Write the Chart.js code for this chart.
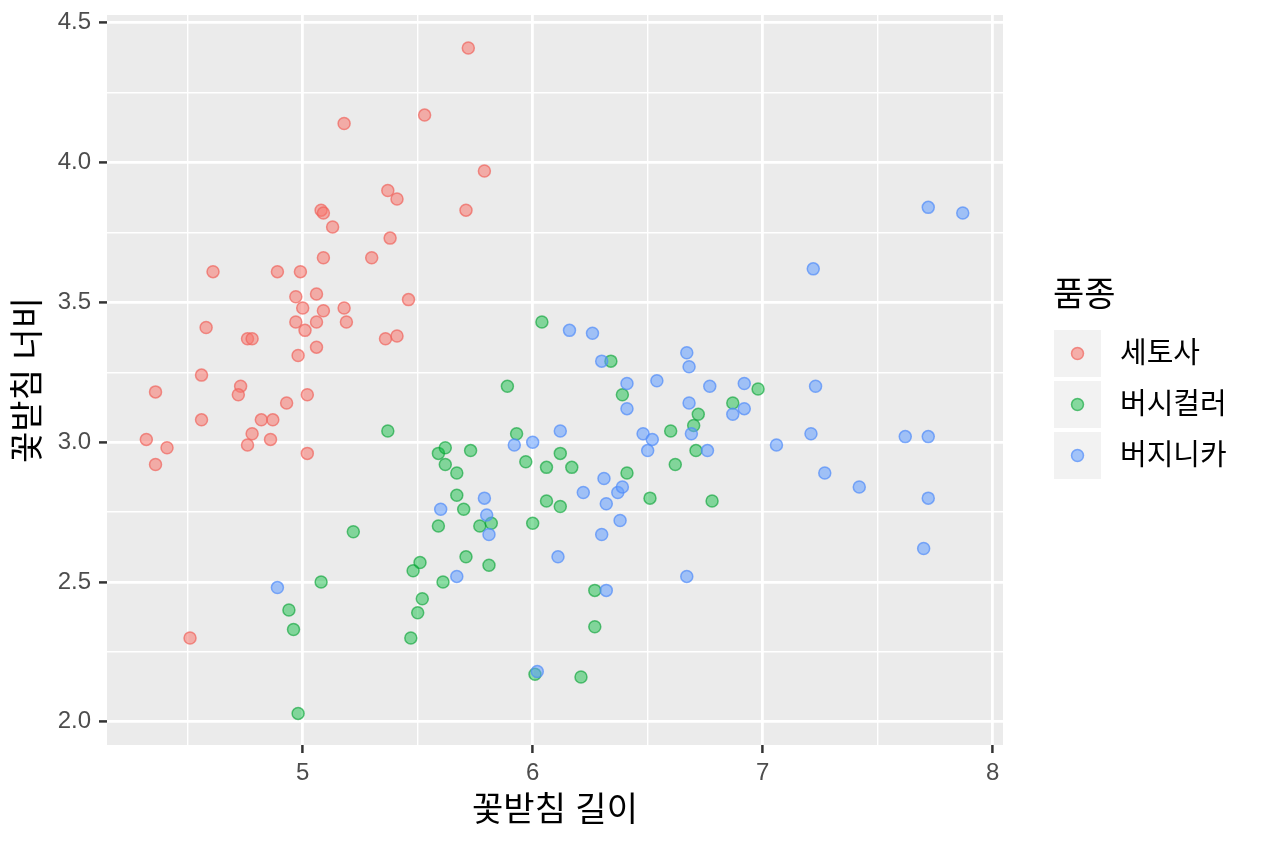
<!DOCTYPE html>
<html lang="ko">
<head>
<meta charset="utf-8">
<title>꽃받침 길이와 너비</title>
<script src="https://cdn.jsdelivr.net/npm/chart.js@4.4.1/dist/chart.umd.min.js"></script>
<style>
    html, body { margin: 0; padding: 0; background: #ffffff; }
    #wrap { width: 1264px; height: 843px; position: relative; }
</style>
</head>
<body>
<div id="wrap"><canvas id="irisChart"></canvas></div>
<script>
// sepal length / width (jittered points)
const speciesNames = ['세토사', '버시컬러', '버지니카'];

const setosaLength = [5.72, 5.53, 5.18, 5.79, 5.37, 5.41, 5.71, 5.08, 5.09, 5.13,
    5.38, 5.09, 5.30, 4.61, 4.89, 4.99, 5.06, 4.97, 5.46, 5.00,
    5.18, 5.09, 4.97, 5.06, 5.19, 4.58, 5.01, 4.76, 4.78, 5.36,
    5.41, 5.06, 4.98, 4.56, 4.73, 4.36, 4.72, 5.02, 4.93, 4.82,
    4.87, 4.56, 4.78, 4.32, 4.86, 4.41, 4.76, 5.02, 4.36, 4.51];
const setosaWidth = [4.41, 4.17, 4.14, 3.97, 3.90, 3.87, 3.83, 3.83, 3.82, 3.77,
    3.73, 3.66, 3.66, 3.61, 3.61, 3.61, 3.53, 3.52, 3.51, 3.48,
    3.48, 3.47, 3.43, 3.43, 3.43, 3.41, 3.40, 3.37, 3.37, 3.37,
    3.38, 3.34, 3.31, 3.24, 3.20, 3.18, 3.17, 3.17, 3.14, 3.08,
    3.08, 3.08, 3.03, 3.01, 3.01, 2.98, 2.99, 2.96, 2.92, 2.30];

const versicolorLength = [6.04, 6.34, 5.89, 6.39, 6.98, 6.87, 6.72, 6.70, 6.60, 5.93,
    5.37, 5.59, 5.62, 5.73, 6.12, 6.71, 5.97, 5.62, 6.06, 6.17,
    5.67, 6.41, 6.62, 5.67, 6.06, 6.12, 6.51, 6.78, 5.70, 5.59,
    5.77, 5.82, 6.00, 5.22, 5.51, 5.48, 5.71, 5.81, 5.08, 5.61,
    6.27, 5.52, 4.94, 5.50, 4.96, 5.47, 6.27, 6.01, 6.21, 4.98];
const versicolorWidth = [3.43, 3.29, 3.20, 3.17, 3.19, 3.14, 3.10, 3.06, 3.04, 3.03,
    3.04, 2.96, 2.98, 2.97, 2.96, 2.97, 2.93, 2.92, 2.91, 2.91,
    2.89, 2.89, 2.92, 2.81, 2.79, 2.77, 2.80, 2.79, 2.76, 2.70,
    2.70, 2.71, 2.71, 2.68, 2.57, 2.54, 2.59, 2.56, 2.50, 2.50,
    2.47, 2.44, 2.40, 2.39, 2.33, 2.30, 2.34, 2.17, 2.16, 2.03];

const virginicaLength = [6.16, 6.26, 6.30, 6.67, 6.68, 6.41, 6.54, 6.77, 6.92, 6.41,
    6.68, 6.92, 6.87, 6.69, 6.12, 6.48, 6.52, 6.50, 6.76, 7.06,
    5.92, 6.00, 6.31, 6.22, 6.37, 6.39, 6.32, 5.79, 5.60, 5.80,
    5.81, 6.38, 6.30, 6.11, 6.67, 5.67, 6.32, 6.02, 4.89, 7.72,
    7.87, 7.22, 7.23, 7.21, 7.62, 7.72, 7.27, 7.42, 7.72, 7.70];
const virginicaWidth = [3.40, 3.39, 3.29, 3.32, 3.27, 3.21, 3.22, 3.20, 3.21, 3.12,
    3.14, 3.12, 3.10, 3.03, 3.04, 3.03, 3.01, 2.97, 2.97, 2.99,
    2.99, 3.00, 2.87, 2.82, 2.82, 2.84, 2.78, 2.80, 2.76, 2.74,
    2.67, 2.72, 2.67, 2.59, 2.52, 2.52, 2.47, 2.18, 2.48, 3.84,
    3.82, 3.62, 3.20, 3.03, 3.02, 3.02, 2.89, 2.84, 2.80, 2.62];

// grid positions: integers / halves are major, the rest minor
const xTickValues = [4.5, 5, 5.5, 6, 6.5, 7, 7.5, 8];
const yTickValues = [2, 2.25, 2.5, 2.75, 3, 3.25, 3.5, 3.75, 4, 4.25, 4.5];

const FONT = "'Liberation Sans', 'Noto Sans CJK KR', sans-serif";

const palette = [
    { fill: 'rgba(248,118,109,0.55)', edge: 'rgba(240,100,92,0.7)' },
    { fill: 'rgba(0,186,56,0.45)', edge: 'rgba(0,160,48,0.6)' },
    { fill: 'rgba(97,156,255,0.55)', edge: 'rgba(80,140,250,0.7)' }
];

function toPoints(xs, ys) {
    return xs.map((x, i) => ({ x: x, y: ys[i] }));
}

const isMajorX = v => Math.abs(v - Math.round(v)) < 1e-6;
const isMajorY = v => Math.abs(v * 2 - Math.round(v * 2)) < 1e-6;

const panelBackground = {
    id: 'panelBackground',
    beforeDraw(chart) {
        const { ctx, chartArea: a } = chart;
        ctx.save();
        ctx.fillStyle = '#EBEBEB';
        ctx.fillRect(a.left, a.top, a.right - a.left, a.bottom - a.top);
        ctx.restore();
    }
};

// ggplot style legend to the right of the panel
const sideLegend = {
    id: 'sideLegend',
    afterDraw(chart) {
        const ctx = chart.ctx;
        const left = 1054, keySize = 47, firstTop = 330, step = 51;
        ctx.save();
        ctx.fillStyle = '#000000';
        ctx.font = "34px " + FONT;
        ctx.textBaseline = 'middle';
        ctx.textAlign = 'left';
        ctx.fillText('품종', left - 1, 297);
        speciesNames.forEach((name, i) => {
            const top = firstTop + i * step;
            ctx.fillStyle = '#F2F2F2';
            ctx.fillRect(left, top, keySize, keySize);
            ctx.beginPath();
            ctx.arc(left + keySize / 2, top + keySize / 2, 6, 0, Math.PI * 2);
            ctx.fillStyle = palette[i].fill;
            ctx.fill();
            ctx.lineWidth = 1.5;
            ctx.strokeStyle = palette[i].edge;
            ctx.stroke();
            ctx.fillStyle = '#000000';
            ctx.font = "29px " + FONT;
            ctx.fillText(name, 1120, top + keySize / 2 + 1);
        });
        ctx.restore();
    }
};

const ctx = document.getElementById('irisChart').getContext('2d');

new Chart(ctx, {
    type: 'scatter',
    data: {
        datasets: [
            { label: speciesNames[0], data: toPoints(setosaLength, setosaWidth), order: 2 },
            { label: speciesNames[1], data: toPoints(versicolorLength, versicolorWidth), order: 1 },
            { label: speciesNames[2], data: toPoints(virginicaLength, virginicaWidth), order: 0 }
        ].map((d, i) => Object.assign(d, {
            backgroundColor: palette[i].fill,
            borderColor: palette[i].edge,
            borderWidth: 1.5,
            pointRadius: 6,
            pointHoverRadius: 6
        }))
    },
    options: {
        responsive: true,
        maintainAspectRatio: false,
        animation: false,
        layout: { padding: { top: 15, right: 261, left: 0, bottom: 0 } },
        plugins: {
            legend: { display: false },
            tooltip: { enabled: false }
        },
        scales: {
            x: {
                type: 'linear',
                min: 4.149,
                max: 8.045,
                afterBuildTicks: scale => { scale.ticks = xTickValues.map(v => ({ value: v })); },
                afterFit: scale => {
                    scale.height = 98;
                    scale.paddingLeft = 0;
                    scale.paddingRight = 0;
                },
                border: { display: false },
                grid: {
                    color: '#FFFFFF',
                    lineWidth: c => isMajorX(c.tick.value) ? 2.8 : 1.4,
                    tickColor: c => isMajorX(c.tick.value) ? '#333333' : 'rgba(0,0,0,0)',
                    tickWidth: 2.5,
                    tickLength: 8
                },
                ticks: {
                    color: '#4D4D4D',
                    font: { family: FONT, size: 24 },
                    padding: 6,
                    maxRotation: 0,
                    autoSkip: false,
                    callback: v => isMajorX(v) ? String(Math.round(v)) : ''
                },
                title: {
                    display: true,
                    text: '꽃받침 길이',
                    color: '#000000',
                    font: { family: FONT, size: 34 },
                    padding: { top: 0, bottom: 11 }
                }
            },
            y: {
                type: 'linear',
                min: 1.917,
                max: 4.528,
                afterBuildTicks: scale => { scale.ticks = yTickValues.map(v => ({ value: v })); },
                afterFit: scale => {
                    scale.width = 107;
                    scale.paddingTop = 0;
                    scale.paddingBottom = 0;
                },
                border: { display: false },
                grid: {
                    color: '#FFFFFF',
                    lineWidth: c => isMajorY(c.tick.value) ? 2.8 : 1.4,
                    tickColor: c => isMajorY(c.tick.value) ? '#333333' : 'rgba(0,0,0,0)',
                    tickWidth: 2.5,
                    tickLength: 8
                },
                ticks: {
                    color: '#4D4D4D',
                    font: { family: FONT, size: 24 },
                    padding: 8,
                    autoSkip: false,
                    callback: v => isMajorY(v) ? v.toFixed(1) : ''
                },
                title: {
                    display: true,
                    text: '꽃받침 너비',
                    color: '#000000',
                    font: { family: FONT, size: 34 },
                    padding: { top: 9, bottom: 0 }
                }
            }
        }
    },
    plugins: [panelBackground, sideLegend]
});
</script>
</body>
</html>
